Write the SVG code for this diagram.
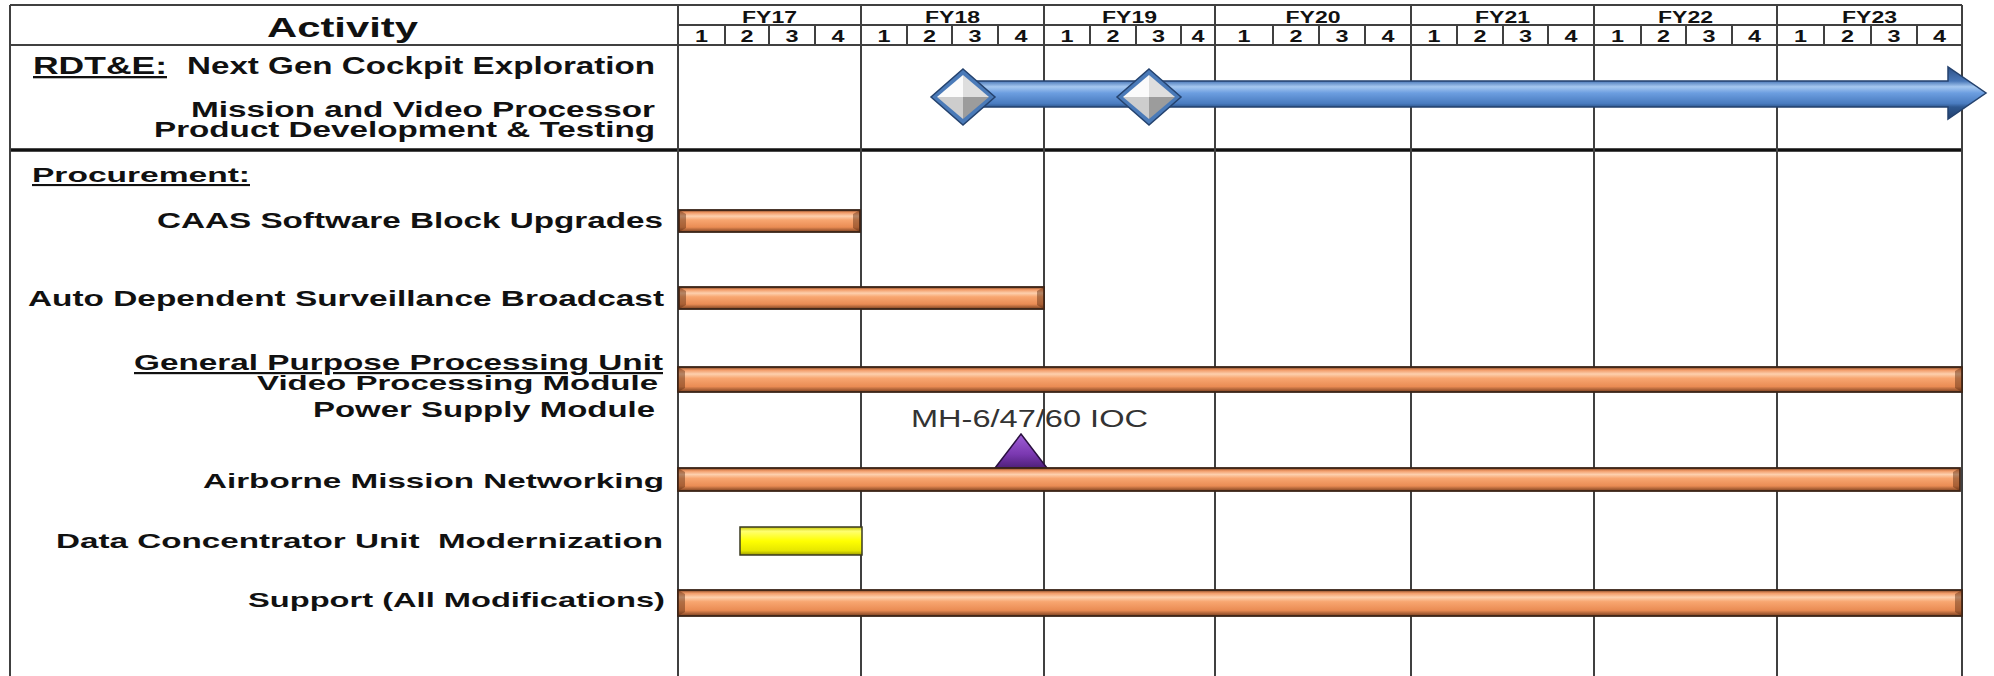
<svg xmlns="http://www.w3.org/2000/svg" width="1994" height="676" viewBox="0 0 1994 676">
<style>
  .ln { stroke:#404040; stroke-width:2; fill:none; }
  .thick { stroke:#111; stroke-width:3.5; fill:none; }
  .lbl { font-family:"Liberation Sans", Arial, sans-serif; font-weight:bold; fill:#111; }
  .hd { font-family:"Liberation Sans", Arial, sans-serif; font-weight:bold; font-size:16px; fill:#111; text-anchor:middle; }
  .ul { text-decoration:underline; }
  .bar { fill:url(#gOrange); stroke:#3a2418; stroke-width:1.8; }
  .bev { fill:#5a2a10; opacity:0.45; }
</style>
<defs>
  <linearGradient id="gOrange" x1="0" y1="0" x2="0" y2="1">
    <stop offset="0" stop-color="#7a4222"/>
    <stop offset="0.12" stop-color="#f29a66"/>
    <stop offset="0.28" stop-color="#fdd0ae"/>
    <stop offset="0.45" stop-color="#f8a670"/>
    <stop offset="0.78" stop-color="#ea8c54"/>
    <stop offset="1" stop-color="#7a4020"/>
  </linearGradient>
  <linearGradient id="gYellow" x1="0" y1="0" x2="0" y2="1">
    <stop offset="0" stop-color="#c8c800"/>
    <stop offset="0.15" stop-color="#ffff70"/>
    <stop offset="0.5" stop-color="#ffff00"/>
    <stop offset="0.85" stop-color="#e6e600"/>
    <stop offset="1" stop-color="#9a9a00"/>
  </linearGradient>
  <linearGradient id="gBlue" gradientUnits="userSpaceOnUse" x1="0" y1="67" x2="0" y2="119">
    <stop offset="0" stop-color="#2c4f86"/>
    <stop offset="0.27" stop-color="#4a78b8"/>
    <stop offset="0.38" stop-color="#a6c8f0"/>
    <stop offset="0.5" stop-color="#6c9ee0"/>
    <stop offset="0.7" stop-color="#4a7cc0"/>
    <stop offset="0.77" stop-color="#2e5890"/>
    <stop offset="1" stop-color="#23406e"/>
  </linearGradient>
  <linearGradient id="gPurple" x1="0" y1="0" x2="0" y2="1">
    <stop offset="0" stop-color="#a060d8"/>
    <stop offset="0.6" stop-color="#7a38b0"/>
    <stop offset="1" stop-color="#4e2078"/>
  </linearGradient>
  <g id="diamond">
    <polygon points="0,-28 32,0 0,28 -32,0" fill="#4a7ab8" stroke="#24426e" stroke-width="1.5"/>
    <polygon points="0,-22 0,0 -26,0" fill="#fbfbfb"/>
    <polygon points="0,-22 26,0 0,0" fill="#dedede"/>
    <polygon points="26,0 0,22 0,0" fill="#9c9c9c"/>
    <polygon points="-26,0 0,0 0,22" fill="#cdcdcd"/>
  </g>
</defs>

<rect x="0" y="0" width="1994" height="676" fill="#ffffff"/>

<g id="grid">
  <line class="ln" x1="10" y1="5" x2="1962" y2="5"/>
  <line class="ln" x1="678" y1="25" x2="1962" y2="25"/>
  <line class="ln" x1="10" y1="45" x2="1962" y2="45"/>
  <line class="thick" x1="10" y1="150" x2="1962" y2="150"/>
  <line class="ln" x1="10" y1="5" x2="10" y2="676"/>
  <line class="ln" x1="678" y1="5" x2="678" y2="676"/>
  <line class="ln" x1="861" y1="5" x2="861" y2="676"/>
  <line class="ln" x1="1044" y1="5" x2="1044" y2="676"/>
  <line class="ln" x1="1215" y1="5" x2="1215" y2="676"/>
  <line class="ln" x1="1411" y1="5" x2="1411" y2="676"/>
  <line class="ln" x1="1594" y1="5" x2="1594" y2="676"/>
  <line class="ln" x1="1777" y1="5" x2="1777" y2="676"/>
  <line class="ln" x1="1962" y1="5" x2="1962" y2="676"/>
  <g class="ln">
    <line x1="725" y1="25" x2="725" y2="45"/><line x1="769" y1="25" x2="769" y2="45"/><line x1="815" y1="25" x2="815" y2="45"/>
    <line x1="907" y1="25" x2="907" y2="45"/><line x1="952" y1="25" x2="952" y2="45"/><line x1="998" y1="25" x2="998" y2="45"/>
    <line x1="1090" y1="25" x2="1090" y2="45"/><line x1="1136" y1="25" x2="1136" y2="45"/><line x1="1181" y1="25" x2="1181" y2="45"/>
    <line x1="1273" y1="25" x2="1273" y2="45"/><line x1="1319" y1="25" x2="1319" y2="45"/><line x1="1365" y1="25" x2="1365" y2="45"/>
    <line x1="1457" y1="25" x2="1457" y2="45"/><line x1="1503" y1="25" x2="1503" y2="45"/><line x1="1548" y1="25" x2="1548" y2="45"/>
    <line x1="1641" y1="25" x2="1641" y2="45"/><line x1="1686" y1="25" x2="1686" y2="45"/><line x1="1732" y1="25" x2="1732" y2="45"/>
    <line x1="1824" y1="25" x2="1824" y2="45"/><line x1="1871" y1="25" x2="1871" y2="45"/><line x1="1917" y1="25" x2="1917" y2="45"/>
  </g>
</g>

<g id="header">
  <text class="lbl" x="267" y="37" font-size="27" textLength="151" lengthAdjust="spacingAndGlyphs">Activity</text>
  <g class="hd">
    <text x="769.5" y="23" textLength="55" lengthAdjust="spacingAndGlyphs">FY17</text>
    <text x="952.5" y="23" textLength="55" lengthAdjust="spacingAndGlyphs">FY18</text>
    <text x="1129.5" y="23" textLength="55" lengthAdjust="spacingAndGlyphs">FY19</text>
    <text x="1313" y="23" textLength="55" lengthAdjust="spacingAndGlyphs">FY20</text>
    <text x="1502.5" y="23" textLength="55" lengthAdjust="spacingAndGlyphs">FY21</text>
    <text x="1685.5" y="23" textLength="55" lengthAdjust="spacingAndGlyphs">FY22</text>
    <text x="1869.5" y="23" textLength="55" lengthAdjust="spacingAndGlyphs">FY23</text>
    <text x="701.5" y="42" textLength="13" lengthAdjust="spacingAndGlyphs">1</text>
    <text x="747" y="42" textLength="13" lengthAdjust="spacingAndGlyphs">2</text>
    <text x="792" y="42" textLength="13" lengthAdjust="spacingAndGlyphs">3</text>
    <text x="838" y="42" textLength="13" lengthAdjust="spacingAndGlyphs">4</text>
    <text x="884" y="42" textLength="13" lengthAdjust="spacingAndGlyphs">1</text>
    <text x="929.5" y="42" textLength="13" lengthAdjust="spacingAndGlyphs">2</text>
    <text x="975" y="42" textLength="13" lengthAdjust="spacingAndGlyphs">3</text>
    <text x="1021" y="42" textLength="13" lengthAdjust="spacingAndGlyphs">4</text>
    <text x="1067" y="42" textLength="13" lengthAdjust="spacingAndGlyphs">1</text>
    <text x="1113" y="42" textLength="13" lengthAdjust="spacingAndGlyphs">2</text>
    <text x="1158.5" y="42" textLength="13" lengthAdjust="spacingAndGlyphs">3</text>
    <text x="1198" y="42" textLength="13" lengthAdjust="spacingAndGlyphs">4</text>
    <text x="1244" y="42" textLength="13" lengthAdjust="spacingAndGlyphs">1</text>
    <text x="1296" y="42" textLength="13" lengthAdjust="spacingAndGlyphs">2</text>
    <text x="1342" y="42" textLength="13" lengthAdjust="spacingAndGlyphs">3</text>
    <text x="1388" y="42" textLength="13" lengthAdjust="spacingAndGlyphs">4</text>
    <text x="1434" y="42" textLength="13" lengthAdjust="spacingAndGlyphs">1</text>
    <text x="1480" y="42" textLength="13" lengthAdjust="spacingAndGlyphs">2</text>
    <text x="1525.5" y="42" textLength="13" lengthAdjust="spacingAndGlyphs">3</text>
    <text x="1571" y="42" textLength="13" lengthAdjust="spacingAndGlyphs">4</text>
    <text x="1617.5" y="42" textLength="13" lengthAdjust="spacingAndGlyphs">1</text>
    <text x="1663.5" y="42" textLength="13" lengthAdjust="spacingAndGlyphs">2</text>
    <text x="1709" y="42" textLength="13" lengthAdjust="spacingAndGlyphs">3</text>
    <text x="1754.5" y="42" textLength="13" lengthAdjust="spacingAndGlyphs">4</text>
    <text x="1800.5" y="42" textLength="13" lengthAdjust="spacingAndGlyphs">1</text>
    <text x="1847.5" y="42" textLength="13" lengthAdjust="spacingAndGlyphs">2</text>
    <text x="1894" y="42" textLength="13" lengthAdjust="spacingAndGlyphs">3</text>
    <text x="1939.5" y="42" textLength="13" lengthAdjust="spacingAndGlyphs">4</text>
  </g>
</g>

<g id="rdte">
  <text class="lbl ul" x="33" y="74" font-size="23" textLength="134" lengthAdjust="spacingAndGlyphs">RDT&amp;E:</text>
  <text class="lbl" x="187" y="74" font-size="23" textLength="468" lengthAdjust="spacingAndGlyphs">Next Gen Cockpit Exploration</text>
  <text class="lbl" x="191" y="117" font-size="22" textLength="464" lengthAdjust="spacingAndGlyphs">Mission and Video Processor</text>
  <text class="lbl" x="154" y="137" font-size="22" textLength="501" lengthAdjust="spacingAndGlyphs">Product Development &amp; Testing</text>
  <path d="M963,81 L1948,81 L1948,67 L1986,93 L1948,119 L1948,107 L963,107 Z" fill="url(#gBlue)" stroke="#24426e" stroke-width="1.5"/>
  <use href="#diamond" x="963" y="97"/>
  <use href="#diamond" x="1149" y="97"/>
</g>

<g id="procurement">
  <text class="lbl ul" x="32" y="182" font-size="21" textLength="218" lengthAdjust="spacingAndGlyphs">Procurement:</text>
</g>

<g id="caas">
  <text class="lbl" x="157" y="228" font-size="22" textLength="506" lengthAdjust="spacingAndGlyphs">CAAS Software Block Upgrades</text>
  <rect class="bar" x="679" y="210" width="181" height="22"/>
  <polygon class="bev" points="679,210 686,214 686,228 679,232"/>
  <polygon class="bev" points="860,210 853,214 853,228 860,232"/>
</g>

<g id="adsb">
  <text class="lbl" x="28" y="306" font-size="22" textLength="636" lengthAdjust="spacingAndGlyphs">Auto Dependent Surveillance Broadcast</text>
  <rect class="bar" x="679" y="287" width="365" height="22"/>
  <polygon class="bev" points="679,287 686,291 686,305 679,309"/>
  <polygon class="bev" points="1044,287 1037,291 1037,305 1044,309"/>
</g>

<g id="gppu">
  <text class="lbl ul" x="134" y="370" font-size="22" textLength="529" lengthAdjust="spacingAndGlyphs">General Purpose Processing Unit</text>
  <text class="lbl" x="257" y="390" font-size="21" textLength="401" lengthAdjust="spacingAndGlyphs">Video Processing Module</text>
  <text class="lbl" x="313" y="417" font-size="22" textLength="342" lengthAdjust="spacingAndGlyphs">Power Supply Module</text>
  <rect class="bar" x="678" y="367" width="1284" height="25"/>
  <polygon class="bev" points="678,367 685,371 685,388 678,392"/>
  <polygon class="bev" points="1962,367 1955,371 1955,388 1962,392"/>
</g>

<g id="ioc">
  <text x="911" y="427" font-family="Liberation Sans, Arial, sans-serif" font-size="23" fill="#333" textLength="237" lengthAdjust="spacingAndGlyphs">MH-6/47/60 IOC</text>
  <polygon points="1021,434 1047,468 995,468" fill="url(#gPurple)" stroke="#2a1040" stroke-width="1.5"/>
</g>

<g id="amn">
  <text class="lbl" x="203" y="488" font-size="21" textLength="461" lengthAdjust="spacingAndGlyphs">Airborne Mission Networking</text>
  <rect class="bar" x="678" y="468" width="1282" height="23"/>
  <polygon class="bev" points="678,468 685,472 685,487 678,491"/>
  <polygon class="bev" points="1960,468 1953,472 1953,487 1960,491"/>
</g>

<g id="dcu">
  <text class="lbl" x="56" y="548" font-size="21" textLength="607" lengthAdjust="spacingAndGlyphs" style="white-space:pre">Data Concentrator Unit  Modernization</text>
  <rect x="740" y="527" width="122" height="28" fill="url(#gYellow)" stroke="#3a3a20" stroke-width="1.5"/>
</g>

<g id="support">
  <text class="lbl" x="248" y="607" font-size="21" textLength="417" lengthAdjust="spacingAndGlyphs">Support (All Modifications)</text>
  <rect class="bar" x="678" y="590" width="1284" height="26"/>
  <polygon class="bev" points="678,590 685,594 685,612 678,616"/>
  <polygon class="bev" points="1962,590 1955,594 1955,612 1962,616"/>
</g>

<g id="connectors"></g>
</svg>
